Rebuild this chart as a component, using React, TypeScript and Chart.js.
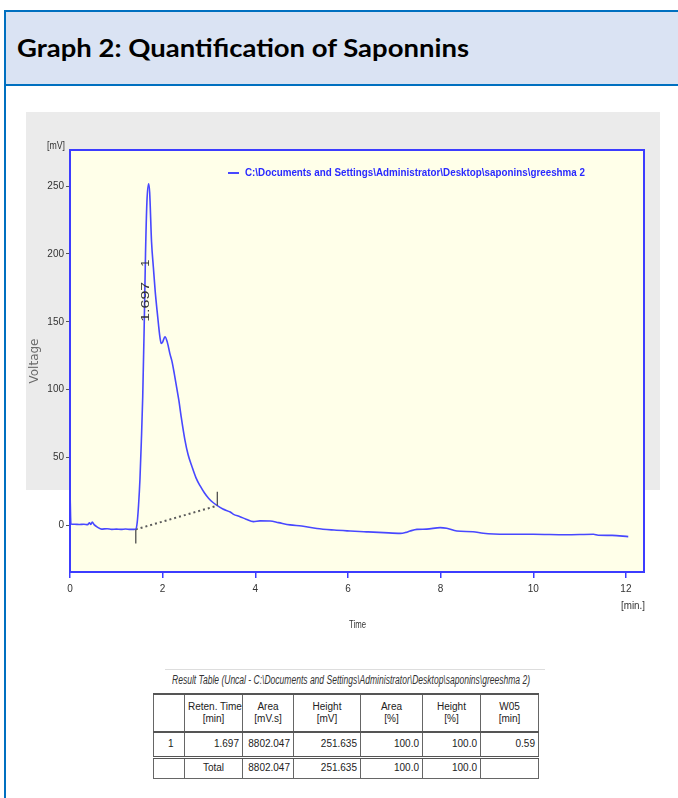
import React, { useEffect, useLayoutEffect, useRef } from "react";
import { Chart, registerables } from "chart.js";

Chart.register(...registerables);

// ---------- data ----------
const TITLE = "Graph 2: Quantification of Saponnins";
const SERIES_LABEL = "C:\\Documents and Settings\\Administrator\\Desktop\\saponins\\greeshma 2";

const timeMin = [
  0, 0.02, 0.1, 0.2, 0.3, 0.38, 0.42, 0.45, 0.48, 0.52, 0.6, 0.68, 0.8, 0.9, 1.0, 1.1, 1.2, 1.3, 1.38,
  1.42, 1.45, 1.48, 1.51, 1.54, 1.57, 1.6, 1.63, 1.66, 1.697, 1.72, 1.76, 1.8, 1.84, 1.88, 1.91, 1.94,
  1.97, 2.0, 2.05, 2.1, 2.16, 2.2, 2.25, 2.3, 2.35, 2.4, 2.48, 2.55, 2.63, 2.72, 2.81, 2.9, 2.99, 3.08,
  3.18, 3.3, 3.46, 3.53, 3.67, 3.8, 3.96, 4.1, 4.32, 4.5, 4.75, 5.0, 5.33, 5.7, 6.05, 6.4, 6.77, 7.13,
  7.25, 7.34, 7.49, 7.7, 7.99, 8.13, 8.35, 8.7, 8.92, 9.42, 10.0, 10.7, 11.3, 11.4, 11.7, 12.05,
];
const voltageMV = [
  26, 1, 0.8, 0.6, 0.8, 0.5, 1.8, 0.6, 2.4, 0.5, -1.5, -2.8, -2.5, -3, -2.8, -3, -2.7, -3, -3,
  -2.8, 2, 15, 34, 62, 95, 144, 200, 238, 251.6, 245, 209, 190, 172, 158, 148, 139,
  134, 135, 139, 135, 126, 121, 112, 102, 92, 80, 63, 52, 43.6, 35, 29, 24, 20, 17,
  14.5, 12, 9.8, 8.1, 6.4, 4.5, 2.7, 3.3, 3.2, 2, 0.3, -0.5, -2.4, -3.5, -4.2, -4.8, -5.4, -5.9,
  -5.2, -4.2, -3, -2.8, -1.7, -2.2, -4.2, -4.7, -5.9, -6.6, -6.6, -7, -6.6, -7.3, -7.4, -8.3,
];

const xTicks = [0, 2, 4, 6, 8, 10, 12];
const yTicks = [0, 50, 100, 150, 200, 250];
const X_MIN = 0;
const X_MAX = 12.39;
const Y_MIN = -34.4;
const Y_MAX = 276.6;

const peakRetention = 1.697;
const peakLabel = "1.697";
const peakNumber = "1";
const baselineTime = [1.42, 3.18];
const baselineVolt = [-3, 14.5];

const yUnit = "[mV]";
const xUnit = "[min.]";
const yTitle = "Voltage";
const xTitle = "Time";

const tableTitle =
  "Result Table (Uncal - C:\\Documents and Settings\\Administrator\\Desktop\\saponins\\greeshma 2)";
const tableHeadTop = ["", "Reten. Time", "Area", "Height", "Area", "Height", "W05"];
const tableHeadUnit = ["", "[min]", "[mV.s]", "[mV]", "[%]", "[%]", "[min]"];
const tableRow1 = ["1", "1.697", "8802.047", "251.635", "100.0", "100.0", "0.59"];
const tableRowTotal = ["", "Total", "8802.047", "251.635", "100.0", "100.0", ""];

// ---------- styles ----------
const NARROW = "'Liberation Sans', Arial, sans-serif";
const LINE_BLUE = "#4848ff";
const FRAME_BLUE = "#0070C0";
const colWidths = [31, 58, 51, 67, 62, 58, 58];

function fillFit(ctx: CanvasRenderingContext2D, text: string, x: number, y: number, width: number) {
  const w = ctx.measureText(text).width;
  ctx.save();
  ctx.translate(x, y);
  ctx.scale(width / w, 1);
  ctx.fillText(text, 0, 0);
  ctx.restore();
}

const decorPlugin = {
  id: "decor",
  beforeDraw(chart: any) {
    const { ctx, chartArea: a } = chart;
    ctx.save();
    ctx.fillStyle = "#FFFFE9";
    ctx.fillRect(a.left, a.top, a.right - a.left, a.bottom - a.top);
    ctx.restore();
  },
  afterDraw(chart: any) {
    const { ctx, chartArea: a, scales } = chart;
    const xs = scales.x;
    const ys = scales.y;
    ctx.save();
    // plot frame
    ctx.strokeStyle = "#3c3cff";
    ctx.lineWidth = 2;
    ctx.strokeRect(a.left, a.top, a.right - a.left, a.bottom - a.top);

    // integration markers
    ctx.strokeStyle = "#505050";
    ctx.lineWidth = 1.3;
    const x1 = xs.getPixelForValue(baselineTime[0]);
    const y1 = ys.getPixelForValue(baselineVolt[0]);
    const x2 = xs.getPixelForValue(baselineTime[1]);
    const y2 = ys.getPixelForValue(baselineVolt[1]);
    ctx.beginPath();
    ctx.moveTo(x1, y1);
    ctx.lineTo(x1, y1 + 14);
    ctx.moveTo(x2, y2);
    ctx.lineTo(x2, y2 - 14);
    ctx.stroke();

    // peak label (rotated)
    const px = xs.getPixelForValue(peakRetention) - 2.5;
    const py = ys.getPixelForValue(150);
    ctx.fillStyle = "#333";
    ctx.font = `11px ${NARROW}`;
    ctx.textBaseline = "middle";
    ctx.textAlign = "left";
    ctx.save();
    ctx.translate(px, py);
    ctx.rotate(-Math.PI / 2);
    fillFit(ctx, peakLabel, 0, 0, 40);
    fillFit(ctx, peakNumber, 55, 0, 7);
    ctx.restore();

    // legend
    const lx = a.left + 158;
    const ly = a.top + 23;
    ctx.strokeStyle = LINE_BLUE;
    ctx.lineWidth = 2;
    ctx.beginPath();
    ctx.moveTo(lx, ly);
    ctx.lineTo(lx + 11, ly);
    ctx.stroke();
    ctx.fillStyle = "#2a2aff";
    ctx.font = `bold 11px ${NARROW}`;
    ctx.textBaseline = "middle";
    fillFit(ctx, SERIES_LABEL, lx + 17, ly, 340);

    // axis units and titles
    ctx.fillStyle = "#333";
    ctx.font = `10px ${NARROW}`;
    ctx.textBaseline = "middle";
    fillFit(ctx, yUnit, a.left - 23, a.top - 4, 18);
    fillFit(ctx, xUnit, a.right - 23, a.bottom + 34, 24);
    ctx.textAlign = "left";
    fillFit(ctx, xTitle, 349, a.bottom + 53, 17);

    ctx.fillStyle = "#6a6a6a";
    ctx.font = `12px 'DejaVu Sans', sans-serif`;
    ctx.save();
    ctx.translate(a.left - 35, 361 - 100);
    ctx.rotate(-Math.PI / 2);
    ctx.textAlign = "center";
    ctx.fillText(yTitle, 0, 0);
    ctx.restore();

    ctx.restore();
  },
};

function ChartBox() {
  const ref = useRef<HTMLCanvasElement | null>(null);
  useEffect(() => {
    if (!ref.current) return;
    const chart = new Chart(ref.current, {
      type: "line",
      data: {
        datasets: [
          {
            label: SERIES_LABEL,
            data: timeMin.map((t, i) => ({ x: t, y: voltageMV[i] })),
            borderColor: LINE_BLUE,
            borderWidth: 1.6,
            pointRadius: 0,
            cubicInterpolationMode: "monotone",
            fill: false,
          },
          {
            label: "baseline",
            data: baselineTime.map((t, i) => ({ x: t, y: baselineVolt[i] })),
            borderColor: "#5a5a5a",
            borderWidth: 2,
            borderDash: [2, 3],
            pointRadius: 0,
            fill: false,
          },
        ],
      },
      options: {
        animation: false,
        responsive: false,
        maintainAspectRatio: false,
        devicePixelRatio: 1,
        layout: { padding: { left: 20, right: 34, top: 50, bottom: 28 } },
        plugins: { legend: { display: false }, tooltip: { enabled: false } },
        scales: {
          x: {
            type: "linear",
            min: X_MIN,
            max: X_MAX,
            afterBuildTicks: (s: any) => {
              s.ticks = xTicks.map((v) => ({ value: v }));
            },
            afterFit: (s: any) => {
              s.height = 60;
            },
            grid: { drawOnChartArea: false, drawTicks: true, tickLength: 6, color: "#3c3cff", lineWidth: 1.5 },
            border: { display: false },
            ticks: {
              padding: 5,
              color: "#333",
              autoSkip: false,
              maxRotation: 0,
              font: { family: NARROW, size: 10 },
              callback: (v: any) => String(v),
            },
          },
          y: {
            type: "linear",
            min: Y_MIN,
            max: Y_MAX,
            afterBuildTicks: (s: any) => {
              s.ticks = yTicks.map((v) => ({ value: v }));
            },
            afterFit: (s: any) => {
              s.width = 50;
            },
            grid: { drawOnChartArea: false, drawTicks: true, tickLength: 4, color: "#555", lineWidth: 1 },
            border: { display: false },
            ticks: {
              padding: 2,
              color: "#333",
              font: { family: NARROW, size: 10 },
              callback: (v: any) => String(v),
            },
          },
        },
      },
      plugins: [decorPlugin],
    } as any);
    return () => chart.destroy();
  }, []);
  return (
    <canvas
      ref={ref}
      width={678}
      height={560}
      style={{ position: "absolute", left: 0, top: 100, width: 678, height: 560 }}
    />
  );
}

function FitText({ text, width, style }: { text: string; width: number; style: React.CSSProperties }) {
  const ref = useRef<HTMLSpanElement | null>(null);
  useLayoutEffect(() => {
    const el = ref.current;
    if (!el) return;
    el.style.transform = "none";
    const w = el.getBoundingClientRect().width;
    if (w > 0) el.style.transform = `scaleX(${width / w})`;
  }, [text, width]);
  return (
    <span
      ref={ref}
      style={{ display: "inline-block", whiteSpace: "nowrap", transformOrigin: "left center", ...style }}
    >
      {text}
    </span>
  );
}

const cellBase: React.CSSProperties = {
  border: "1px solid #666",
  padding: "0 3px",
  fontFamily: NARROW,
  fontSize: 10,
  color: "#222",
  lineHeight: "12px",
  whiteSpace: "nowrap",
};

export default function App() {
  return (
    <div
      style={{
        position: "fixed",
        left: 0,
        top: 0,
        width: 678,
        height: 798,
        background: "#fff",
        overflow: "hidden",
      }}
    >
      {/* frame */}
      <div style={{ position: "absolute", left: 6, top: 12, width: 672, height: 72, background: "#DAE3F3" }} />
      <div style={{ position: "absolute", left: 4, top: 10, width: 674, height: 2, background: FRAME_BLUE }} />
      <div style={{ position: "absolute", left: 4, top: 84, width: 674, height: 2, background: FRAME_BLUE }} />
      <div style={{ position: "absolute", left: 4, top: 10, width: 2, height: 788, background: FRAME_BLUE }} />
      <div style={{ position: "absolute", left: 17, top: 33 }}>
        <FitText
          text={TITLE}
          width={452}
          style={{
            fontFamily: "Lato, 'Open Sans', sans-serif",
            fontWeight: 700,
            fontSize: 25,
            lineHeight: "28px",
            color: "#000",
          }}
        />
      </div>

      {/* gray chart panel */}
      <div style={{ position: "absolute", left: 26, top: 112, width: 634, height: 378, background: "#EBEBEB" }} />

      <ChartBox />

      {/* result table */}
      <div style={{ position: "absolute", left: 165, top: 669, width: 380, height: 1, background: "#ddd" }} />
      <div style={{ position: "absolute", left: 172, top: 670 }}>
        <FitText
          text={tableTitle}
          width={358}
          style={{ fontFamily: NARROW, fontStyle: "italic", fontSize: 12.5, lineHeight: "16px", color: "#333" }}
        />
      </div>
      <table
        style={{
          position: "absolute",
          left: 153,
          top: 693,
          borderCollapse: "collapse",
          tableLayout: "fixed",
          width: colWidths.reduce((a, b) => a + b, 0),
          borderTop: "2px solid #555",
        }}
      >
        <colgroup>
          {colWidths.map((w, i) => (
            <col key={i} style={{ width: w }} />
          ))}
        </colgroup>
        <tbody>
          <tr style={{ height: 38 }}>
            {tableHeadTop.map((h, i) => (
              <td key={i} style={{ ...cellBase, textAlign: "center", borderBottom: "2px solid #555" }}>
                {h}
                {h ? <br /> : null}
                {tableHeadUnit[i]}
              </td>
            ))}
          </tr>
          <tr style={{ height: 25 }}>
            {tableRow1.map((v, i) => (
              <td
                key={i}
                style={{
                  ...cellBase,
                  textAlign: i === 0 ? "left" : "right",
                  paddingLeft: i === 0 ? 14 : 3,
                  borderBottom: "3px double #555",
                }}
              >
                {v}
              </td>
            ))}
          </tr>
          <tr style={{ height: 21 }}>
            {tableRowTotal.map((v, i) => (
              <td key={i} style={{ ...cellBase, textAlign: i === 1 ? "center" : "right" }}>
                {v}
              </td>
            ))}
          </tr>
        </tbody>
      </table>
    </div>
  );
}
